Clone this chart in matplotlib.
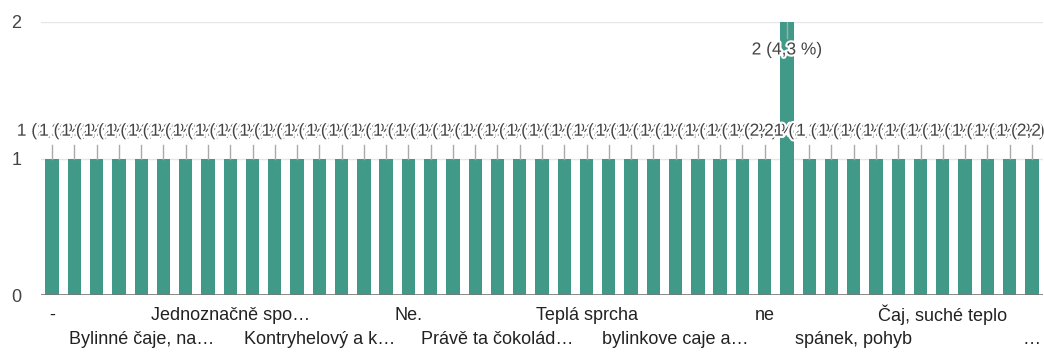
import matplotlib
matplotlib.use("Agg")
import matplotlib.pyplot as plt
import matplotlib.patheffects as pe

plt.rcParams['font.family'] = ['Liberation Sans', 'DejaVu Sans']

# answer counts per response (45 distinct free-text answers)
counts = [1] * 33 + [2] + [1] * 11
total = sum(counts)

# only every 4th category label fits under the axis
label_pos = [0, 4, 8, 12, 16, 20, 24, 28, 32, 36, 40, 44]
label_txt = ["-", "Bylinné čaje, na…", "Jednoznačně spo…", "Kontryhelový a k…",
             "Ne.", "Právě ta čokolád…", "Teplá sprcha", "bylinkove caje a…",
             "ne", "spánek, pohyb", "Čaj, suché teplo", "…"]

BAR = "#419a88"
TXT = "#444444"

fig = plt.figure(figsize=(10.44, 3.52), dpi=100)
ax = fig.add_axes([41/1044, 1 - 295/352, 1002/1044, 273/352])

x = list(range(len(counts)))
ax.bar(x, counts, width=0.6, color=BAR, zorder=2)

ax.set_xlim(-0.5, len(counts) - 0.5)
ax.set_ylim(0, 2)
ax.set_yticks([0, 1, 2])
ax.set_yticklabels(["0", "1", "2"], fontsize=13, color=TXT)
ax.tick_params(axis='y', length=0, pad=14)
ax.tick_params(axis='x', length=0)
ax.set_xticks([])
for s in ax.spines.values():
    s.set_visible(False)
ax.axhline(0, color="#777777", lw=1.2, zorder=3)
for g in (1, 2):
    ax.axhline(g, color="#e6e6e6", lw=1, zorder=1)

halo = [pe.withStroke(linewidth=3, foreground="white")]
for i, v in enumerate(counts):
    pct = f"{v / total * 100:.1f}".replace(".", ",")
    if v == 1:
        ly, y0, y1 = 1.2, 1.10, 1.0
    else:
        ly, y0, y1 = 1.795, 1.88, 2.0
    ax.plot([i, i], [y0, y1], color="#aaaaaa", lw=1, zorder=3)
    ax.text(i, ly, f"{v} ({pct} %)", ha="center", va="center", fontsize=12.5,
            color=TXT, path_effects=halo, zorder=4)

for k, (p, t) in enumerate(zip(label_pos, label_txt)):
    off = -20 if k % 2 == 0 else -45
    ax.annotate(t, xy=(p, 0), xycoords=('data', 'axes fraction'),
                xytext=(0, off), textcoords='offset pixels',
                ha="center", va="center", fontsize=13, color="#222222",
                annotation_clip=False)

fig.savefig("out.png", dpi=100)
